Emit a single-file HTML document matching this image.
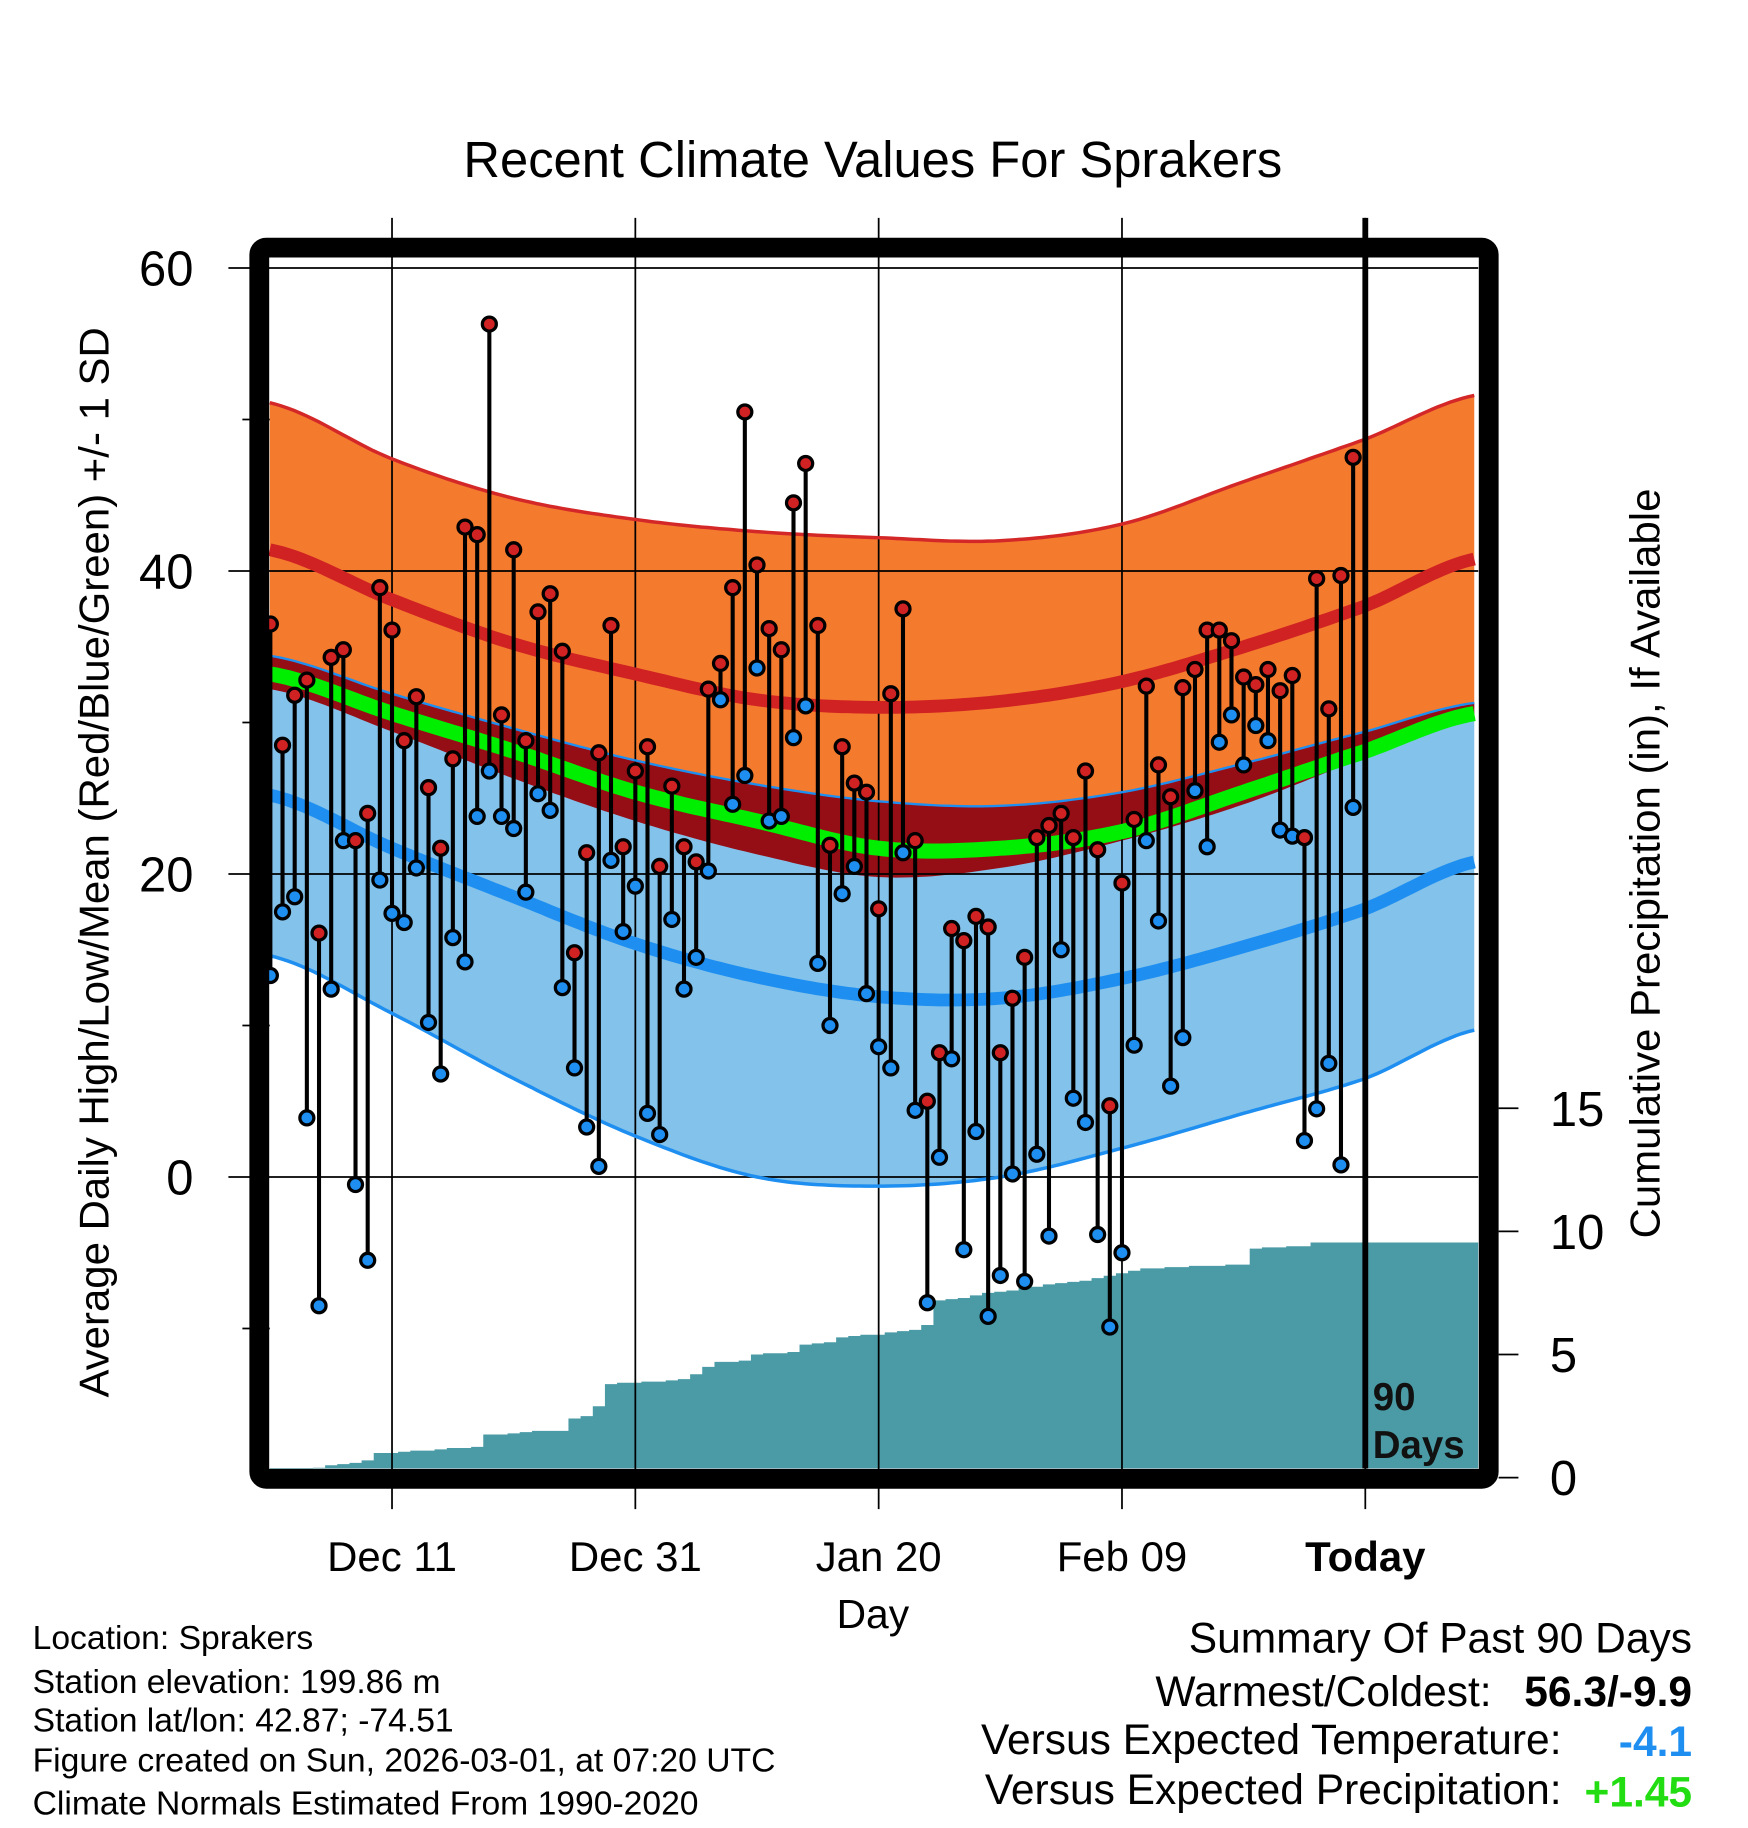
<!DOCTYPE html>
<html><head><meta charset="utf-8"><style>
html,body{margin:0;padding:0;background:#fff;}
svg{display:block;font-family:"Liberation Sans",Arial,sans-serif;}
</style></head><body>
<svg id="chart" width="1748" height="1828" viewBox="0 0 1500 1568.65" xmlns="http://www.w3.org/2000/svg">
<g id="layer-bands"></g>
<g id="layer-precip"></g>
<g id="layer-grid"></g>
<g id="layer-lines"></g>
<g id="layer-obs"></g>
<g id="layer-frame"></g>
<text x="749" y="152" font-size="43.5" text-anchor="middle">Recent Climate Values For Sprakers</text>
<text transform="translate(93,740) rotate(-90)" font-size="36" text-anchor="middle">Average Daily High/Low/Mean (Red/Blue/Green) +/- 1 SD</text>
<text transform="translate(1424,741) rotate(-90)" font-size="36" text-anchor="middle">Cumulative Precipitation (in), If Available</text>
<text x="749" y="1397" font-size="35" text-anchor="middle">Day</text>
<text x="1178" y="1210" font-size="33" font-weight="bold" fill="#111">90</text>
<text x="1178" y="1251" font-size="33" font-weight="bold" fill="#111">Days</text>
<g font-size="28.9">
<text x="28" y="1415">Location: Sprakers</text>
<text x="28" y="1453">Station elevation: 199.86 m</text>
<text x="28" y="1486">Station lat/lon: 42.87; -74.51</text>
<text x="28" y="1520">Figure created on Sun, 2026-03-01, at 07:20 UTC</text>
<text x="28" y="1557">Climate Normals Estimated From 1990-2020</text>
</g>
<g font-size="36.5">
<text x="1452" y="1418" text-anchor="end">Summary Of Past 90 Days</text>
<text x="1280" y="1464" text-anchor="end">Warmest/Coldest:</text>
<text x="1452" y="1464" text-anchor="end" font-weight="bold">56.3/-9.9</text>
<text x="1340" y="1505" text-anchor="end">Versus Expected Temperature:</text>
<text x="1452" y="1507" text-anchor="end" font-weight="bold" fill="#1e8ff0">-4.1</text>
<text x="1340" y="1548" text-anchor="end">Versus Expected Precipitation:</text>
<text x="1452" y="1550" text-anchor="end" font-weight="bold" fill="#22dd11">+1.45</text>
</g>
</svg>
<script>
// ---- data ----
const normDays = [0,10,20,30,40,50,60,70,80,90,99];
const highPlusSD = [51.1,47.4,44.8,43.4,42.6,42.2,42.0,43.1,45.9,48.7,51.6];
const highMean = [41.4,38.1,35.2,33.2,31.5,31.0,31.4,32.7,35.0,37.7,40.8];
const highMinusSD = [32.2,29.4,26.3,23.5,21.3,19.8,20.4,22.2,24.6,27.7,30.5];
const meanTemp = [33.2,30.6,28.1,25.4,23.5,21.7,21.7,22.8,25.4,28.1,30.6];
const lowPlusSD = [34.4,31.9,29.6,27.5,25.9,24.8,24.5,25.4,27.3,29.4,31.3];
const lowMean = [25.2,21.7,18.5,15.4,13.2,11.9,11.8,13.1,15.2,17.7,20.8];
const lowMinusSD = [14.6,10.8,6.5,2.7,0.0,-0.6,0.0,1.9,4.2,6.5,9.7];
const highs = [36.5,28.5,31.8,32.8,16.1,34.3,34.8,22.2,24.0,38.9,36.1,28.8,31.7,25.7,21.7,27.6,42.9,42.4,56.3,30.5,41.4,28.8,37.3,38.5,34.7,14.8,21.4,28.0,36.4,21.8,26.8,28.4,20.5,25.8,21.8,20.8,32.2,33.9,38.9,50.5,40.4,36.2,34.8,44.5,47.1,36.4,21.9,28.4,26.0,25.4,17.7,31.9,37.5,22.2,5.0,8.2,16.4,15.6,17.2,16.5,8.2,11.8,14.5,22.4,23.2,24.0,22.4,26.8,21.6,4.7,19.4,23.6,32.4,27.2,25.1,32.3,33.5,36.1,36.1,35.4,33.0,32.5,33.5,32.1,33.1,22.4,39.5,30.9,39.7,47.5];
const lows = [13.3,17.5,18.5,3.9,-8.5,12.4,22.2,-0.5,-5.5,19.6,17.4,16.8,20.4,10.2,6.8,15.8,14.2,23.8,26.8,23.8,23.0,18.8,25.3,24.2,12.5,7.2,3.3,0.7,20.9,16.2,19.2,4.2,2.8,17.0,12.4,14.5,20.2,31.5,24.6,26.5,33.6,23.5,23.8,29.0,31.1,14.1,10.0,18.7,20.5,12.1,8.6,7.2,21.4,4.4,-8.3,1.3,7.8,-4.8,3.0,-9.2,-6.5,0.2,-6.9,1.5,-3.9,15.0,5.2,3.6,-3.8,-9.9,-5.0,8.7,22.2,16.9,6.0,9.2,25.5,21.8,28.7,30.5,27.2,29.8,28.8,22.9,22.5,2.4,4.5,7.5,0.8,24.4];
const precipCum = [0.1,0.15,0.2,0.3,0.4,0.5,0.55,0.6,0.7,1.0,1.0,1.05,1.1,1.1,1.15,1.2,1.2,1.25,1.75,1.75,1.8,1.85,1.9,1.9,1.9,2.4,2.5,2.9,3.8,3.85,3.85,3.9,3.9,3.95,4.0,4.2,4.5,4.7,4.7,4.75,5.0,5.05,5.05,5.1,5.4,5.45,5.5,5.7,5.75,5.8,5.8,5.9,5.95,6.0,6.2,7.2,7.25,7.3,7.4,7.5,7.55,7.6,7.7,7.75,7.85,7.9,7.95,8.0,8.1,8.2,8.3,8.4,8.5,8.5,8.55,8.55,8.6,8.6,8.6,8.65,8.65,9.3,9.35,9.35,9.4,9.4,9.55,9.55,9.55,9.55];
const yTicks = [0,20,40,60];
const yMinor = [-10,10,30,50];
const y2Ticks = [0,5,10,15];
const xTickDays = [10,30,50,70,90];
const xTickLabels = ["Dec 11","Dec 31","Jan 20","Feb 09","Today"];

// ---- scales ----
const X0=232, DX=10.44, PL=231.5, PR=1268.5, PT=221, PB=1260;
function sx(d){return X0+DX*d;}
function sy(t){return 1010-13*t;}
function sp(p){return 1268-21.13*p;}
const NS="http://www.w3.org/2000/svg";
function mk(tag,attrs,parent){const e=document.createElementNS(NS,tag);for(const k in attrs)e.setAttribute(k,attrs[k]);parent.appendChild(e);return e;}
function interp(arr,d){for(let i=0;i<normDays.length-1;i++){if(d<=normDays[i+1]||i==normDays.length-2){const t=(d-normDays[i])/(normDays[i+1]-normDays[i]);const p0=arr[Math.max(i-1,0)],p1=arr[i],p2=arr[i+1],p3=arr[Math.min(i+2,arr.length-1)];return 0.5*((2*p1)+(-p0+p2)*t+(2*p0-5*p1+4*p2-p3)*t*t+(-p0+3*p1-3*p2+p3)*t*t*t);}}}
const dStart=(PL-X0)/DX, dEnd=(PR-X0)/DX;
function curvePts(arr){const pts=[];for(let d=dStart;d<=dEnd+0.001;d+=0.5){pts.push([sx(d),sy(interp(arr,Math.min(d,99)))]);}return pts;}
function ptsStr(p){return p.map(q=>q[0].toFixed(1)+","+q[1].toFixed(1)).join(" ");}
function band(upper,lower,fill,name,parent){const u=curvePts(upper),l=curvePts(lower).reverse();const e=mk("polygon",{points:ptsStr(u.concat(l)),fill:fill},parent);

}
function line(arr,color,w,name,parent){const e=mk("polyline",{points:ptsStr(curvePts(arr)),fill:"none",stroke:color,"stroke-width":w},parent);

}

const gB=document.getElementById("layer-bands");
const gP=document.getElementById("layer-precip");
const gG=document.getElementById("layer-grid");
const gL=document.getElementById("layer-lines");
const gO=document.getElementById("layer-obs");
const gF=document.getElementById("layer-frame");

band(highPlusSD,highMinusSD,"#f47a2e","high-sd-band",gB);
band(lowPlusSD,lowMinusSD,"#83c2ea","low-sd-band",gB);
band(lowPlusSD,highMinusSD,"#960e15","overlap-band",gB);
line(meanTemp,"#00ee00",13,"mean-temp-line",gL);
line(highPlusSD,"#d42828",3,"high-plus-sd-line",gL);
line(highMean,"#d02222",11,"mean-high-line",gL);
line(lowPlusSD,"#1e8ff0",2,"low-plus-sd-line",gL);
line(lowMinusSD,"#1e8ff0",3,"low-minus-sd-line",gL);
line(lowMean,"#1e8ff0",11,"mean-low-line",gL);

// precipitation step area
{let pts=[[PL,PB]];for(let i=0;i<precipCum.length;i++){const x1=i==0?PL:sx(i-0.5),x2=sx(i+0.5);pts.push([x1,sp(precipCum[i])]);pts.push([i==precipCum.length-1?PR:x2,sp(precipCum[i])]);}pts.push([PR,PB]);
const e=mk("polygon",{points:ptsStr(pts),fill:"#4a9ba6"},gP);

}

// grid and ticks
yTicks.forEach(t=>{const e=mk("line",{x1:196,x2:PR,y1:sy(t),y2:sy(t),stroke:"#000","stroke-width":1.5},gG);


const tx=mk("text",{x:166,y:sy(t)+15,"font-size":42,"text-anchor":"end"},gG);tx.textContent=t;

});
yMinor.forEach(t=>{const e=mk("line",{x1:208,x2:PL,y1:sy(t),y2:sy(t),stroke:"#000","stroke-width":1.5},gG);

});
y2Ticks.forEach(p=>{const e=mk("line",{x1:1286,x2:1303,y1:sp(p),y2:sp(p),stroke:"#000","stroke-width":1.5},gG);


const tx=mk("text",{x:1330,y:sp(p)+15,"font-size":42},gG);tx.textContent=p;

});
xTickDays.forEach((d,i)=>{const today=i==xTickDays.length-1;
const e=mk("line",{x1:sx(d),x2:sx(d),y1:187,y2:1295,stroke:"#000","stroke-width":1.5},gG);


if(today){const t=mk("line",{x1:sx(d),x2:sx(d),y1:187,y2:PB,stroke:"#000","stroke-width":5},gF);

}
const tx=mk("text",{x:sx(d),y:1348,"font-size":36,"text-anchor":"middle","font-weight":today?"bold":"normal"},gG);tx.textContent=xTickLabels[i];

});

// observations
highs.forEach((h,i)=>{const l=lows[i];const x=sx(i);
const s=mk("line",{x1:x,x2:x,y1:sy(h),y2:sy(l),stroke:"#000","stroke-width":3.5},gO);


const c1=mk("circle",{cx:x,cy:sy(l),r:6,fill:"#1e8ff0",stroke:"#000","stroke-width":2.8},gO);


const c2=mk("circle",{cx:x,cy:sy(h),r:6,fill:"#d02222",stroke:"#000","stroke-width":2.8},gO);

});

// frame
{const f=mk("rect",{x:222.5,y:212.5,width:1055,height:1056.5,rx:6,fill:"none",stroke:"#000","stroke-width":17},gF);

}
</script>
</body></html>
